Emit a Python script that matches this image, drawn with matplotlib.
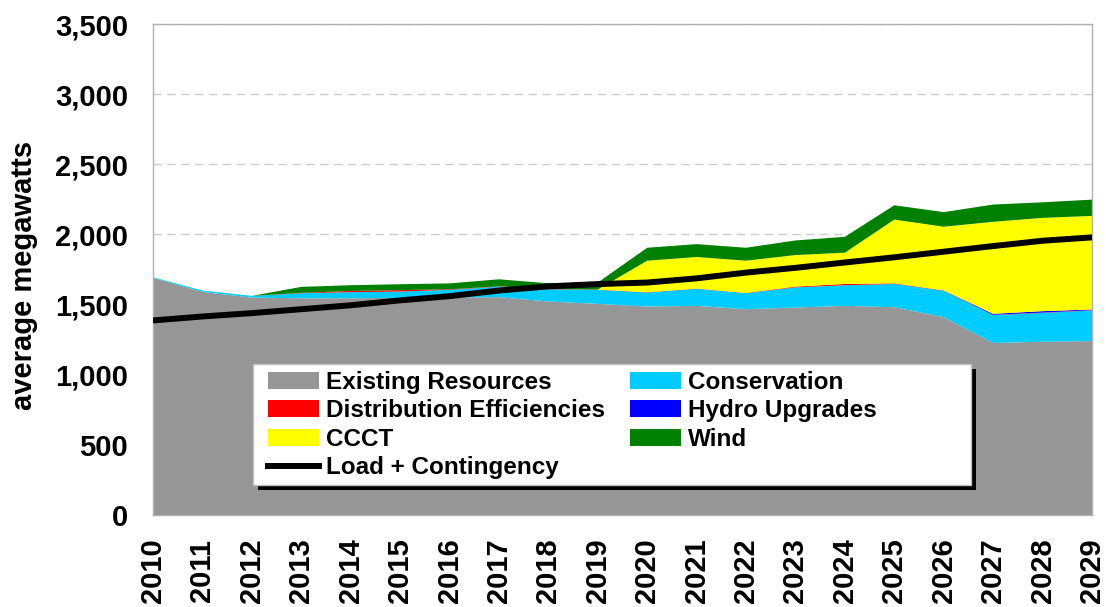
import matplotlib
matplotlib.use("Agg")
import matplotlib.pyplot as plt
from matplotlib.patches import Patch, Rectangle
from matplotlib.lines import Line2D
from matplotlib.ticker import FuncFormatter, MultipleLocator

plt.rcParams["font.family"] = ["Liberation Sans", "DejaVu Sans"]
plt.rcParams["font.weight"] = "bold"

years = list(range(2010, 2030))

existing = [1690, 1590, 1550, 1545, 1545, 1548, 1550, 1553, 1522, 1505,
            1486, 1491, 1467, 1479, 1491, 1481, 1410, 1226, 1235, 1240]
conservation = [5, 10, 12, 36, 43, 45, 55, 75, 87, 100,
                100, 121, 114, 144, 147, 166, 188, 199, 206, 218]
distribution = [0, 0, 0, 3, 9, 10, 4, 2, 2, 2,
                2, 2, 2, 5, 9, 4, 2, 2, 2, 2]
hydro = [0, 0, 0, 0, 0, 0, 0, 0, 0, 0,
         0, 0, 0, 0, 0, 0, 1, 7, 10, 5]
ccct = [0, 0, 0, 0, 0, 0, 0, 0, 0, 0,
        225, 225, 230, 225, 223, 455, 454, 656, 665, 667]
wind = [0, 0, 0, 42, 41, 42, 42, 50, 41, 50,
        92, 92, 92, 104, 113, 102, 104, 123, 111, 116]
load = [1387, 1415, 1439, 1467, 1495, 1530, 1560, 1600, 1630, 1646,
        1657, 1687, 1728, 1762, 1800, 1837, 1877, 1917, 1955, 1979]

labels = ["Existing Resources", "Conservation", "Distribution Efficiencies",
          "Hydro Upgrades", "CCCT", "Wind"]
colors = ["#969696", "#00CCFF", "#FF0000", "#0000FF", "#FFFF00", "#008000"]

W, H = 1106, 607
fig = plt.figure(figsize=(W / 100, H / 100), dpi=100)
ax = fig.add_axes([153 / W, (H - 515) / H, (1092 - 153) / W, (515 - 24) / H])

ax.stackplot(years, existing, conservation, distribution, hydro, ccct, wind,
             colors=colors, linewidth=0, zorder=2)
ax.plot(years, load, color="black", linewidth=4.3, zorder=3,
        solid_capstyle="butt")

ax.set_xlim(2010, 2029)
ax.set_ylim(0, 3500)
ax.yaxis.set_major_locator(MultipleLocator(500))
ax.yaxis.set_major_formatter(FuncFormatter(lambda v, p: f"{int(v):,}"))
ax.set_xticks(years)
ax.set_xticklabels([str(y) for y in years], rotation=90)
ax.grid(axis="y", color="#cccccc", linestyle=(0, (6, 4)), linewidth=1, zorder=1)
ax.set_axisbelow(True)
for s in ax.spines.values():
    s.set_color("#b0b0b0")
    s.set_linewidth(1)
ax.tick_params(axis="both", length=0, labelsize=21)
ax.tick_params(axis="x", pad=17)
ax.tick_params(axis="y", pad=18)
for t in ax.get_xticklabels() + ax.get_yticklabels():
    t.set_fontweight("bold")

fig.text(24 / W, 1 - 275 / H, "average megawatts", rotation=90,
         ha="center", va="center", fontsize=21, fontweight="bold")

# Legend box with drop shadow
bx0, by0, bx1, by1 = 253, 364, 971, 485
off = 5
fig.patches.append(Rectangle(((bx0 + off) / W, 1 - (by1 + off) / H),
                             (bx1 - bx0) / W, (by1 - by0) / H,
                             transform=fig.transFigure, facecolor="black",
                             edgecolor="none", zorder=4))
fig.patches.append(Rectangle((bx0 / W, 1 - by1 / H),
                             (bx1 - bx0) / W, (by1 - by0) / H,
                             transform=fig.transFigure, facecolor="white",
                             edgecolor="#c0c0c0", linewidth=1, zorder=5))

handles = [Patch(facecolor=colors[0], label=labels[0]),
           Patch(facecolor=colors[2], label=labels[2]),
           Patch(facecolor=colors[4], label=labels[4]),
           Line2D([], [], color="black", linewidth=4.3, label="Load + Contingency"),
           Patch(facecolor=colors[1], label=labels[1]),
           Patch(facecolor=colors[3], label=labels[3]),
           Patch(facecolor=colors[5], label=labels[5])]
leg = fig.legend(handles=handles, ncol=2, loc="upper left",
                 bbox_to_anchor=(268 / W, 1 - 371 / H), frameon=False,
                 prop={"size": 17.5, "weight": "bold"}, handlelength=2.1,
                 handleheight=0.68, handletextpad=0.3, columnspacing=1.0,
                 labelspacing=0.22, borderpad=0, borderaxespad=0)
leg.set_zorder(6)

fig.savefig("out.png", dpi=100)
